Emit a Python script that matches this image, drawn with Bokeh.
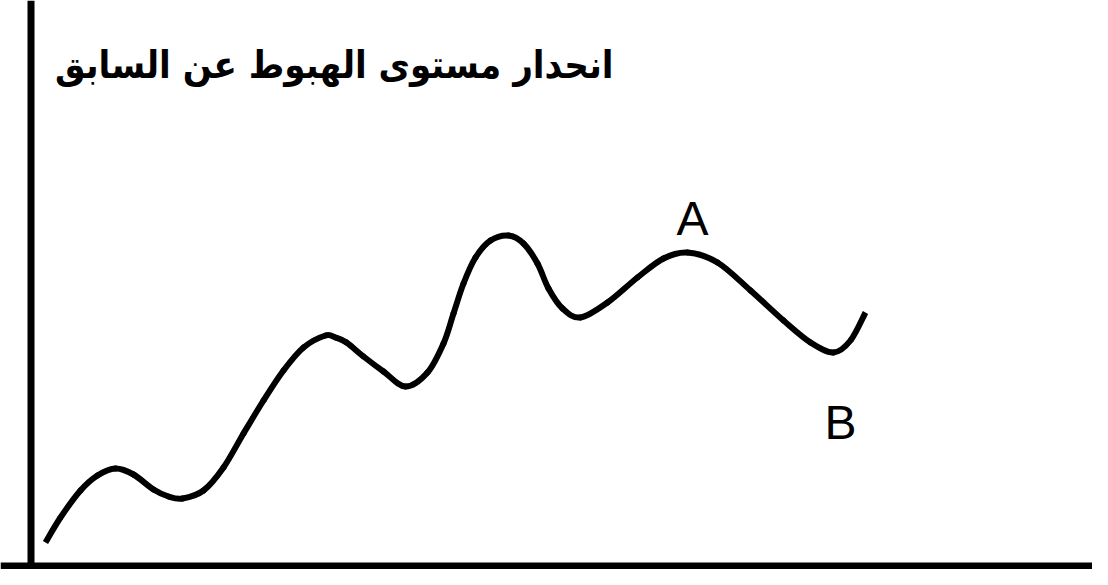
from bokeh.plotting import figure
from bokeh.models import Range1d, ColumnDataSource
from bokeh.core.properties import value
from bokeh.embed import file_html
from bokeh.resources import INLINE

# Curve points (pixel-like units, y downwards)
curve_x = [45, 60, 80, 97, 115, 133, 153, 168, 182, 203, 223, 243, 263, 283, 303, 325,
           335, 346, 363, 383, 405, 427, 443, 453, 463, 475, 490, 508, 523, 537, 548,
           562, 580, 607, 637, 663, 687, 717, 750, 783, 810, 833, 850, 865]
curve_y = [542, 517, 490, 475, 468, 474, 489, 496, 498, 490, 467, 433, 400, 370, 347, 335,
           337, 342, 356, 371, 386, 372, 343, 313, 283, 257, 240, 235, 243, 263, 288,
           308, 317, 302, 277, 258, 252, 262, 290, 320, 342, 352, 340, 312]

title_text = "انحدار مستوى الهبوط عن السابق"
labels = ["A", "B"]
label_x = [692, 840]
label_y = [218, 422]

W, H = 1092, 569
p = figure(width=W, height=H, output_backend="svg", toolbar_location=None,
           x_range=Range1d(0, W), y_range=Range1d(H, 0),
           min_border=0, outline_line_color=None)
p.axis.visible = False
p.grid.visible = False
p.background_fill_color = "white"
p.border_fill_color = "white"

# axes lines
p.segment(x0=[30.5, 0], y0=[0, 565.5], x1=[30.5, 1110], y1=[600, 565.5],
          line_color="black", line_width=7)

# smooth curve through the read points (Catmull-Rom -> cubic Bezier)
n = len(curve_x)
segs = dict(x0=[], y0=[], x1=[], y1=[], cx0=[], cy0=[], cx1=[], cy1=[])
for i in range(n - 1):
    pm = i - 1 if i > 0 else i
    pp = i + 2 if i + 2 < n else i + 1
    segs["x0"].append(curve_x[i]); segs["y0"].append(curve_y[i])
    segs["x1"].append(curve_x[i + 1]); segs["y1"].append(curve_y[i + 1])
    segs["cx0"].append(curve_x[i] + (curve_x[i + 1] - curve_x[pm]) / 6)
    segs["cy0"].append(curve_y[i] + (curve_y[i + 1] - curve_y[pm]) / 6)
    segs["cx1"].append(curve_x[i + 1] - (curve_x[pp] - curve_x[i]) / 6)
    segs["cy1"].append(curve_y[i + 1] - (curve_y[pp] - curve_y[i]) / 6)

inner = {k: v[1:-1] for k, v in segs.items()}
ends = {k: [v[0], v[-1]] for k, v in segs.items()}
bz = dict(x0="x0", y0="y0", x1="x1", y1="y1", cx0="cx0", cy0="cy0", cx1="cx1", cy1="cy1")
p.bezier(source=ColumnDataSource(ends), line_color="black", line_width=6,
         line_cap="butt", **bz)
p.bezier(source=ColumnDataSource(inner), line_color="black", line_width=6,
         line_cap="round", **bz)

# title
p.text(x=[613], y=[64], text=[title_text], text_align="right", text_baseline="alphabetic",
       text_font=value("DejaVu Sans Condensed"), text_font_style="bold", text_font_size="38px",
       text_color="black")

# labels
p.text(x=label_x, y=label_y, text=labels, text_align="center", text_baseline="alphabetic",
       text_font=value("Liberation Sans"), text_font_size="48px", text_color="black")

open("out.html", "w").write(file_html(p, INLINE))
